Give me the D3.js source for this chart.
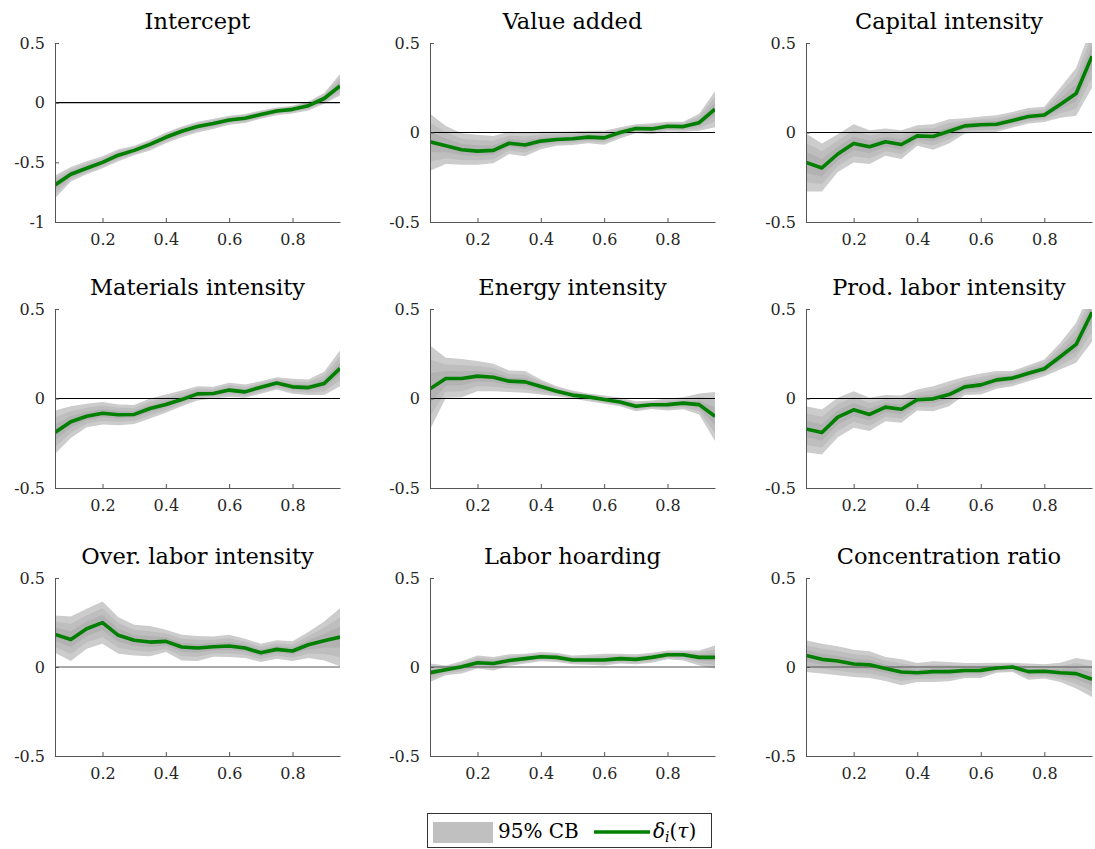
<!DOCTYPE html>
<html>
<head>
<meta charset="utf-8">
<script src="https://cdn.jsdelivr.net/npm/d3@7"></script>
<style>
  body { margin: 0; background: #fff; }
  svg { display: block; }
  text { font-family: "DejaVu Serif", serif; }
</style>
</head>
<body>
<svg id="chart" width="1095" height="849"></svg>
<script>
// Quantile grid
const tau = [0.05,0.10,0.15,0.20,0.25,0.30,0.35,0.40,0.45,0.50,0.55,0.60,0.65,0.70,0.75,0.80,0.85,0.90,0.95];
const xTicks = [0.2, 0.4, 0.6, 0.8];

// Panel titles
const titles = ["Intercept","Value added","Capital intensity","Materials intensity","Energy intensity",
  "Prod. labor intensity","Over. labor intensity","Labor hoarding","Concentration ratio"];

// Y tick values per panel
const yTicksIntercept = [-1, -0.5, 0, 0.5];
const yTicksDefault = [-0.5, 0, 0.5];

// Coefficient estimates and 95% confidence bands
const interceptEst = [-0.69,-0.60,-0.55,-0.50,-0.44,-0.40,-0.35,-0.29,-0.24,-0.20,-0.175,-0.145,-0.13,-0.10,-0.07,-0.056,-0.025,0.035,0.14];
const interceptLo  = [-0.80,-0.66,-0.60,-0.55,-0.49,-0.44,-0.40,-0.34,-0.29,-0.25,-0.22,-0.185,-0.17,-0.135,-0.105,-0.09,-0.065,-0.01,0.06];
const interceptHi  = [-0.61,-0.54,-0.49,-0.45,-0.39,-0.36,-0.31,-0.25,-0.20,-0.16,-0.135,-0.11,-0.095,-0.065,-0.04,-0.025,0.01,0.08,0.24];

const valueEst = [-0.052,-0.074,-0.096,-0.104,-0.10,-0.06,-0.07,-0.048,-0.039,-0.035,-0.026,-0.03,0.0,0.022,0.02,0.035,0.033,0.055,0.13];
const valueLo  = [-0.213,-0.176,-0.18,-0.18,-0.172,-0.12,-0.133,-0.093,-0.074,-0.07,-0.06,-0.068,-0.033,-0.004,-0.01,0.006,0.004,0.01,0.03];
const valueHi  = [0.105,0.037,-0.004,-0.013,-0.02,0.004,0.0,0.004,0.004,0.006,0.01,0.01,0.03,0.046,0.052,0.06,0.06,0.105,0.23];

const capitalEst = [-0.167,-0.198,-0.12,-0.061,-0.08,-0.052,-0.067,-0.019,-0.022,0.007,0.037,0.043,0.046,0.067,0.089,0.098,0.157,0.218,0.426];
const capitalLo  = [-0.33,-0.33,-0.22,-0.167,-0.176,-0.13,-0.148,-0.074,-0.096,-0.061,-0.006,0.0,0.004,0.028,0.05,0.059,0.083,0.093,0.25];
const capitalHi  = [-0.006,-0.061,-0.01,0.046,0.013,0.022,0.013,0.04,0.046,0.074,0.08,0.089,0.096,0.115,0.137,0.144,0.25,0.36,0.60];

const materialsEst = [-0.19,-0.13,-0.099,-0.082,-0.091,-0.089,-0.056,-0.034,-0.006,0.026,0.028,0.047,0.037,0.063,0.086,0.065,0.061,0.084,0.168];
const materialsLo  = [-0.31,-0.22,-0.16,-0.145,-0.149,-0.142,-0.112,-0.08,-0.043,-0.011,0.0,0.009,0.004,0.026,0.05,0.026,0.019,0.019,0.069];
const materialsHi  = [-0.067,-0.043,-0.03,-0.019,-0.034,-0.037,0.0,0.022,0.045,0.069,0.065,0.088,0.078,0.097,0.119,0.11,0.106,0.149,0.268];

const energyEst = [0.054,0.112,0.112,0.125,0.119,0.097,0.093,0.067,0.041,0.019,0.009,-0.006,-0.02,-0.043,-0.035,-0.034,-0.026,-0.034,-0.099];
const energyLo  = [-0.173,0.004,0.007,0.041,0.041,0.037,0.032,0.022,0.013,0.0,-0.015,-0.03,-0.043,-0.071,-0.058,-0.067,-0.06,-0.089,-0.238];
const energyHi  = [0.296,0.227,0.22,0.209,0.194,0.156,0.153,0.106,0.069,0.045,0.028,0.017,0.004,-0.015,-0.011,0.0,0.007,0.028,0.037];

const prodEst = [-0.17,-0.19,-0.104,-0.063,-0.089,-0.048,-0.06,-0.007,-0.002,0.022,0.065,0.076,0.104,0.114,0.141,0.166,0.233,0.302,0.482];
const prodLo  = [-0.30,-0.313,-0.216,-0.164,-0.182,-0.127,-0.136,-0.067,-0.071,-0.043,0.019,0.022,0.054,0.069,0.097,0.125,0.162,0.20,0.317];
const prodHi  = [-0.043,-0.061,0.004,0.041,0.004,0.019,0.017,0.05,0.069,0.097,0.121,0.14,0.153,0.153,0.186,0.218,0.31,0.423,0.62];

const overEst = [0.183,0.155,0.215,0.249,0.178,0.15,0.14,0.144,0.112,0.107,0.114,0.118,0.107,0.08,0.099,0.09,0.125,0.148,0.168];
const overLo  = [0.08,0.034,0.103,0.131,0.075,0.065,0.06,0.084,0.037,0.034,0.058,0.056,0.05,0.028,0.047,0.034,0.05,0.037,0.004];
const overHi  = [0.29,0.284,0.327,0.368,0.28,0.237,0.23,0.209,0.181,0.174,0.172,0.181,0.159,0.131,0.15,0.144,0.196,0.256,0.33];

const hoardEst = [-0.032,-0.015,0.002,0.024,0.02,0.037,0.047,0.058,0.054,0.039,0.039,0.039,0.047,0.043,0.054,0.069,0.069,0.054,0.054];
const hoardLo  = [-0.084,-0.047,-0.037,-0.009,-0.019,0.006,0.019,0.032,0.028,0.015,0.013,0.009,0.019,0.015,0.024,0.043,0.037,0.009,-0.009];
const hoardHi  = [0.019,0.009,0.032,0.065,0.056,0.071,0.075,0.084,0.08,0.065,0.069,0.075,0.075,0.071,0.08,0.093,0.093,0.093,0.121];

const concEst = [0.065,0.043,0.034,0.017,0.013,-0.009,-0.028,-0.032,-0.026,-0.026,-0.02,-0.019,-0.006,0.0,-0.026,-0.024,-0.032,-0.037,-0.069];
const concLo  = [-0.028,-0.037,-0.047,-0.056,-0.062,-0.079,-0.103,-0.084,-0.084,-0.08,-0.062,-0.062,-0.032,-0.028,-0.071,-0.065,-0.084,-0.121,-0.168];
const concHi  = [0.15,0.131,0.116,0.097,0.088,0.056,0.043,0.022,0.032,0.028,0.022,0.022,0.024,0.024,0.019,0.015,0.024,0.05,0.037];

const panels = [
  {est: interceptEst, lo: interceptLo, hi: interceptHi, ymin: -1, ticks: yTicksIntercept},
  {est: valueEst, lo: valueLo, hi: valueHi, ymin: -0.5, ticks: yTicksDefault},
  {est: capitalEst, lo: capitalLo, hi: capitalHi, ymin: -0.5, ticks: yTicksDefault},
  {est: materialsEst, lo: materialsLo, hi: materialsHi, ymin: -0.5, ticks: yTicksDefault},
  {est: energyEst, lo: energyLo, hi: energyHi, ymin: -0.5, ticks: yTicksDefault},
  {est: prodEst, lo: prodLo, hi: prodHi, ymin: -0.5, ticks: yTicksDefault},
  {est: overEst, lo: overLo, hi: overHi, ymin: -0.5, ticks: yTicksDefault},
  {est: hoardEst, lo: hoardLo, hi: hoardHi, ymin: -0.5, ticks: yTicksDefault},
  {est: concEst, lo: concLo, hi: concHi, ymin: -0.5, ticks: yTicksDefault}
];

// Grid layout
const colX = [[55, 340], [430, 715], [806, 1092]];
const rowY = [[43, 222], [309, 488], [578, 756]];

const GREEN = "#007f00";
const AXIS = "#555";
const TICKTXT = "#262626";
const SERIF = '"DejaVu Serif", serif';
const shades = [{k: 1.0, c: "#cccccc"}, {k: 0.68, c: "#bebebe"}, {k: 0.36, c: "#b2b2b2"}];

const svg = d3.select("#chart");
const fmt = d => d === 0 ? "0" : String(d);

panels.forEach((p, i) => {
  const r = Math.floor(i / 3), c = i % 3;
  const [x0, x1] = colX[c], [y0, y1] = rowY[r];
  const x = d3.scaleLinear().domain([0.05, 0.95]).range([x0, x1]);
  const y = d3.scaleLinear().domain([p.ymin, 0.5]).range([y1, y0]);

  const g = svg.append("g");
  const clipId = "clip" + i;
  g.append("clipPath").attr("id", clipId)
    .append("rect").attr("x", x0).attr("y", y0).attr("width", x1 - x0).attr("height", y1 - y0);

  const plot = g.append("g").attr("clip-path", `url(#${clipId})`);
  const rows = tau.map((t, j) => ({t, e: p.est[j], lo: p.lo[j], hi: p.hi[j]}));

  // graded shading of the confidence band toward the estimate
  shades.forEach(s => {
    const area = d3.area()
      .x(d => x(d.t))
      .y0(d => y(d.e + s.k * (d.lo - d.e)))
      .y1(d => y(d.e + s.k * (d.hi - d.e)));
    plot.append("path").datum(rows).attr("d", area).attr("fill", s.c);
  });

  // zero reference line
  plot.append("line")
    .attr("x1", x0).attr("x2", x1).attr("y1", y(0)).attr("y2", y(0))
    .attr("stroke", r === 2 ? "#555" : "#000").attr("stroke-width", 1.1);

  // estimate
  plot.append("path").datum(rows)
    .attr("d", d3.line().x(d => x(d.t)).y(d => y(d.e)))
    .attr("fill", "none").attr("stroke", GREEN).attr("stroke-width", 3.6)
    .attr("stroke-linejoin", "round");

  // axes
  const xAxis = g.append("g").attr("transform", `translate(0,${y1})`)
    .call(d3.axisBottom(x).tickValues(xTicks).tickFormat(fmt).tickSizeInner(-4).tickSizeOuter(0).tickPadding(12));
  const yAxis = g.append("g").attr("transform", `translate(${x0},0)`)
    .call(d3.axisLeft(y).tickValues(p.ticks).tickFormat(fmt).tickSizeInner(-4).tickSizeOuter(0).tickPadding(10));
  [xAxis, yAxis].forEach(a => {
    a.select(".domain").attr("stroke", AXIS);
    a.selectAll(".tick line").attr("stroke", AXIS);
    a.selectAll(".tick text").attr("fill", TICKTXT).style("font-size", "16px")
      .style("font-family", SERIF);
  });

  // title
  g.append("text")
    .attr("x", (x0 + x1) / 2).attr("y", y0 - 14)
    .attr("text-anchor", "middle").attr("fill", "#000")
    .style("font-size", "22.5px").style("font-family", SERIF)
    .text(titles[i]);
});

// Legend
const leg = svg.append("g").style("font-family", SERIF);
leg.append("rect").attr("x", 427.5).attr("y", 813.5).attr("width", 284).attr("height", 34)
  .attr("fill", "#fff").attr("stroke", "#333").attr("stroke-width", 1);
leg.append("rect").attr("x", 433).attr("y", 822).attr("width", 60).attr("height", 21).attr("fill", "#c0c0c0");
leg.append("text").attr("x", 498).attr("y", 838).style("font-size", "20px").attr("fill", "#000").text("95% CB");
leg.append("line").attr("x1", 594).attr("x2", 650).attr("y1", 832).attr("y2", 832)
  .attr("stroke", GREEN).attr("stroke-width", 3.6);
const lt = leg.append("text").attr("x", 653).attr("y", 838).style("font-size", "20px").attr("fill", "#000");
lt.append("tspan").style("font-style", "italic").text("δ");
lt.append("tspan").style("font-style", "italic").style("font-size", "14px").attr("dy", 4).text("i");
lt.append("tspan").attr("dy", -4).text("(");
lt.append("tspan").style("font-style", "italic").text("τ");
lt.append("tspan").text(")");
</script>
</body>
</html>
